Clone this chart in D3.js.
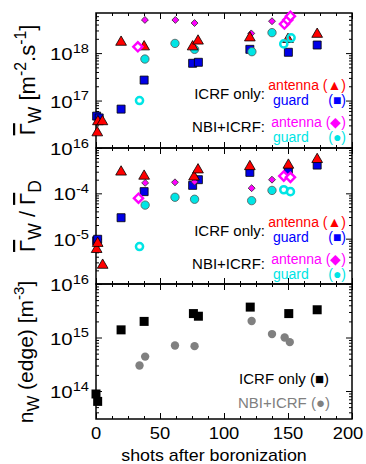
<!DOCTYPE html>
<html>
<head>
<meta charset="utf-8">
<script src="https://cdn.jsdelivr.net/npm/d3@7"></script>
<style>
  body { margin: 0; background: #fff; }
  text { font-family: "Liberation Sans", Arial, sans-serif; }
</style>
</head>
<body>
<svg id="chart" width="366" height="464"></svg>
<script>
// [shots after boronization, value]
// top panel: W flux
const fluxAntICRF = [[1, 2.1e16], [1.5, 3.6e16], [5, 3.6e16], [19.6, 1.7e18], [37.6, 1.36e18], [75.5, 1.36e18], [79.7, 1.8e18], [120.2, 2.1e18], [150, 1.95e18], [172.8, 2.5e18]];
const fluxGrdICRF = [[0.5, 4.7e16], [2.5, 4.3e16], [19.6, 6.6e16], [37.6, 2.7e17], [75.5, 6.1e17], [80, 6.4e17], [120.2, 1.2e18], [150.3, 1.04e18], [172.8, 1.48e18]];
const fluxAntNBI = [[38.2, 5e18], [62, 5e18], [77, 4.3e18], [121.3, 2.6e18], [137.5, 4.7e18]];
const fluxGrdNBI = [[38.2, 7.5e17], [61.7, 1.6e18], [77, 1.2e18], [121.8, 1.07e18], [137.5, 2.7e18]];
const fluxAntNBIopen = [[32.7, 1.36e18], [147.2, 4.1e18], [149.8, 5e18], [151.9, 6e18]];
const fluxGrdNBIopen = [[34, 1e17], [146.7, 1.56e18], [152.4, 2.1e18]];

// middle panel: W / D flux ratio
const ratioAntICRF = [[0.5, 5.8e-6], [1.3, 7.9e-6], [5.2, 2.6e-6], [19.6, 2.96e-4], [37.6, 2.4e-4], [76.6, 2.3e-4], [79.7, 3.3e-4], [120.2, 3.9e-4], [150.3, 4.2e-4], [172.8, 5.6e-4]];
const ratioGrdICRF = [[0.5, 9e-6], [1.3, 9.7e-6], [19.6, 2.9e-5], [37.6, 1.09e-4], [75.5, 1.5e-4], [80, 2e-4], [120.2, 2.9e-4], [150.3, 3.2e-4], [172.8, 4.2e-4]];
const ratioAntNBI = [[38.4, 1.7e-4], [61.7, 1.75e-4], [77, 1.8e-4], [121.6, 1.3e-4], [137.5, 2e-4]];
const ratioGrdNBI = [[38.4, 5.5e-5], [61.7, 8.2e-5], [77, 7.4e-5], [121.6, 6.9e-5], [137.5, 1.16e-4]];
const ratioAntNBIopen = [[33.2, 7.8e-5], [146.7, 2.4e-4], [151.9, 2.25e-4]];
const ratioGrdNBIopen = [[34, 6.7e-6], [146.7, 1.2e-4], [151.9, 1.09e-4]];

// bottom panel: W edge density
const densICRF = [[0, 8.8e13], [1.3, 6.4e13], [19.6, 1.39e15], [37.6, 2.0e15], [76.1, 2.8e15], [80, 2.5e15], [120.5, 3.7e15], [150.6, 2.8e15], [172.8, 3.3e15]];
const densNBI = [[34, 3.0e14], [38.4, 4.4e14], [61.7, 7.1e14], [77, 6.9e14], [121.6, 2.04e15], [137.5, 1.16e15], [147.4, 1.0e15], [151.4, 8.2e14]];

const xTicks = [0, 50, 100, 150, 200];

const svg = d3.select('#chart');
const X0 = 96, X1 = 352;
const x = d3.scaleLinear().domain([0, 200]).range([X0, X1]);
const SX = 1.2; // text looks horizontally stretched in the original

// write text made of parts, some super/subscript
function rich(sel, parts, size) {
    let shift = 0;
    parts.forEach(p => {
        let target = 0, fs = size;
        if (p.sup) { target = -size * 0.42; fs = size * 0.72; }
        if (p.sub) { target = size * 0.28; fs = size * 0.8; }
        const ts = sel.append('tspan').attr('dy', target - shift).attr('font-size', fs).text(p.t);
        if (p.bar) ts.style('text-decoration', 'overline');
        shift = target;
    });
}

function minorLog(domain) {
    const out = [];
    const lo = Math.floor(Math.log10(domain[0])), hi = Math.ceil(Math.log10(domain[1]));
    for (let d = lo; d <= hi; d++)
        for (let k = 2; k <= 9; k++) {
            const v = k * Math.pow(10, d);
            if (v > domain[0] && v < domain[1]) out.push(v);
        }
    return out;
}

function panel(y, top, bottom, majors, labels) {
    const g = svg.append('g');
    const minors = minorLog(y.domain());
    const xMinor = d3.range(0, 201, 12.5).filter(v => v % 50 !== 0);
    const clean = s => s.select('.domain').remove();
    const defs = [
        [d3.axisLeft, X0, 0, y], [d3.axisRight, X1, 0, y],
        [d3.axisTop, 0, top, x], [d3.axisBottom, 0, bottom, x]
    ];
    defs.forEach(([ax, tx, ty, sc]) => {
        const isY = sc === y;
        g.append('g').attr('transform', `translate(${tx},${ty})`)
            .call(ax(sc).tickValues(isY ? majors : xTicks).tickSize(-6).tickFormat(''))
            .call(clean);
        g.append('g').attr('transform', `translate(${tx},${ty})`)
            .call(ax(sc).tickValues(isY ? minors : xMinor).tickSize(-3).tickFormat(''))
            .call(clean);
    });
    g.selectAll('.tick line').attr('stroke', '#000').attr('stroke-width', 1);
    g.append('rect').attr('x', X0).attr('y', top).attr('width', X1 - X0).attr('height', bottom - top)
        .attr('fill', 'none').attr('stroke', '#000').attr('stroke-width', 1.5);

    labels.forEach(v => {
        const e = Math.round(Math.log10(v));
        const t = svg.append('text').attr('text-anchor', 'end')
            .attr('transform', `translate(89,${y(v) + 7}) scale(${SX},1)`);
        rich(t, [{ t: '10' }, { t: String(e), sup: true }], 17);
    });
}

function markers(y, data, shape, size, fill, stroke, sw, rot) {
    svg.append('g').selectAll('path').data(data).join('path')
        .attr('d', d3.symbol().type(shape).size(size))
        .attr('transform', d => `translate(${x(d[0])},${y(d[1])})` + (rot ? ' rotate(45)' : ''))
        .attr('fill', fill).attr('stroke', stroke).attr('stroke-width', sw);
}

const RED = '#ff0000', BLUE = '#0000e6', MAG = '#ff00ff', CYAN = '#00e5e5';

// ---- panel 1
const y1 = d3.scaleLog().domain([1e16, 7e18]).range([148, 13]);
panel(y1, 13, 148, [1e16, 1e17, 1e18], [1e16, 1e17, 1e18]);
markers(y1, fluxGrdICRF, d3.symbolSquare, 64, BLUE, '#000', 0.8);
markers(y1, fluxGrdNBI, d3.symbolCircle, 55, CYAN, '#555', 0.8);
markers(y1, fluxAntNBI, d3.symbolSquare, 24, MAG, '#333', 0.8, true);
markers(y1, fluxAntICRF, d3.symbolTriangle, 50, RED, '#000', 0.8);
markers(y1, fluxAntNBIopen, d3.symbolSquare, 42, '#fff', MAG, 2.4, true);
markers(y1, fluxGrdNBIopen, d3.symbolCircle, 40, 'none', CYAN, 2.5);

// ---- panel 2
const y2 = d3.scaleLog().domain([1e-6, 1e-3]).range([284, 148]);
panel(y2, 148, 284, [1e-6, 1e-5, 1e-4, 1e-3], [1e-5, 1e-4]);
markers(y2, ratioGrdICRF, d3.symbolSquare, 64, BLUE, '#000', 0.8);
markers(y2, ratioGrdNBI, d3.symbolCircle, 55, CYAN, '#555', 0.8);
markers(y2, ratioAntNBI, d3.symbolSquare, 24, MAG, '#333', 0.8, true);
markers(y2, ratioAntICRF, d3.symbolTriangle, 50, RED, '#000', 0.8);
markers(y2, ratioAntNBIopen, d3.symbolSquare, 42, '#fff', MAG, 2.4, true);
markers(y2, ratioGrdNBIopen, d3.symbolCircle, 40, 'none', CYAN, 2.5);

// ---- panel 3
const y3 = d3.scaleLog().domain([3e13, 1e16]).range([419, 284]);
panel(y3, 284, 419, [1e14, 1e15, 1e16], [1e14, 1e15, 1e16]);
markers(y3, densICRF, d3.symbolSquare, 81, '#000', 'none', 0);
markers(y3, densNBI, d3.symbolCircle, 55, '#808080', 'none', 0);

// x tick labels
xTicks.forEach(v => {
    svg.append('text').attr('text-anchor', 'middle')
        .attr('transform', `translate(${Math.min(x(v), 348)},439) scale(1.08,1)`)
        .attr('font-size', 17).text(v);
});
svg.append('text').attr('text-anchor', 'middle')
    .attr('transform', `translate(214,461) scale(1.05,1)`)
    .attr('font-size', 17).text('shots after boronization');

// y titles
const GB = { t: '\u0393', bar: true };
function ytitle(cx, cy, parts, size) {
    const t = svg.append('text').attr('text-anchor', 'middle')
        .attr('transform', `translate(${cx},${cy}) rotate(-90)`);
    rich(t, parts, size);
}
ytitle(35, 80, [GB, { t: 'W', sub: true }, { t: ' [m' }, { t: '-2', sup: true }, { t: '.s' }, { t: '-1', sup: true }, { t: ']' }], 22);
ytitle(35, 216, [GB, { t: 'W', sub: true }, { t: ' / ' }, GB, { t: 'D', sub: true }], 22);
ytitle(33, 352, [{ t: 'n' }, { t: 'W', sub: true }, { t: ' (edge) [m' }, { t: '-3', sup: true }, { t: ']' }], 21);

// legends
function lab(x0, y0, anchor, txt, color, size) {
    svg.append('text').attr('text-anchor', anchor)
        .attr('x', x0).attr('y', y0)
        .attr('font-size', size || 14).attr('fill', color).text(txt);
}
[0, 137].forEach(dy => {
    lab(265, 99 + dy, 'end', 'ICRF only:', '#000', 15);
    lab(346, 90 + dy, 'end', 'antenna (\u25B2)', RED);
    lab(273, 105 + dy, 'start', 'guard', '#0000ff');
    lab(346, 105 + dy, 'end', '(\u25A0)', '#0000ff');
    lab(265, 132 + dy, 'end', 'NBI+ICRF:', '#000', 15);
    lab(346, 127 + dy, 'end', 'antenna (\u25C6)', MAG);
    lab(273, 142 + dy, 'start', 'guard', CYAN);
    lab(346, 142 + dy, 'end', '(\u25CF)', CYAN);
});
lab(329, 384, 'end', 'ICRF only (\u25A0)', '#000', 15);
lab(330, 408, 'end', 'NBI+ICRF (\u25CF)', '#808080', 15);
</script>
</body>
</html>
